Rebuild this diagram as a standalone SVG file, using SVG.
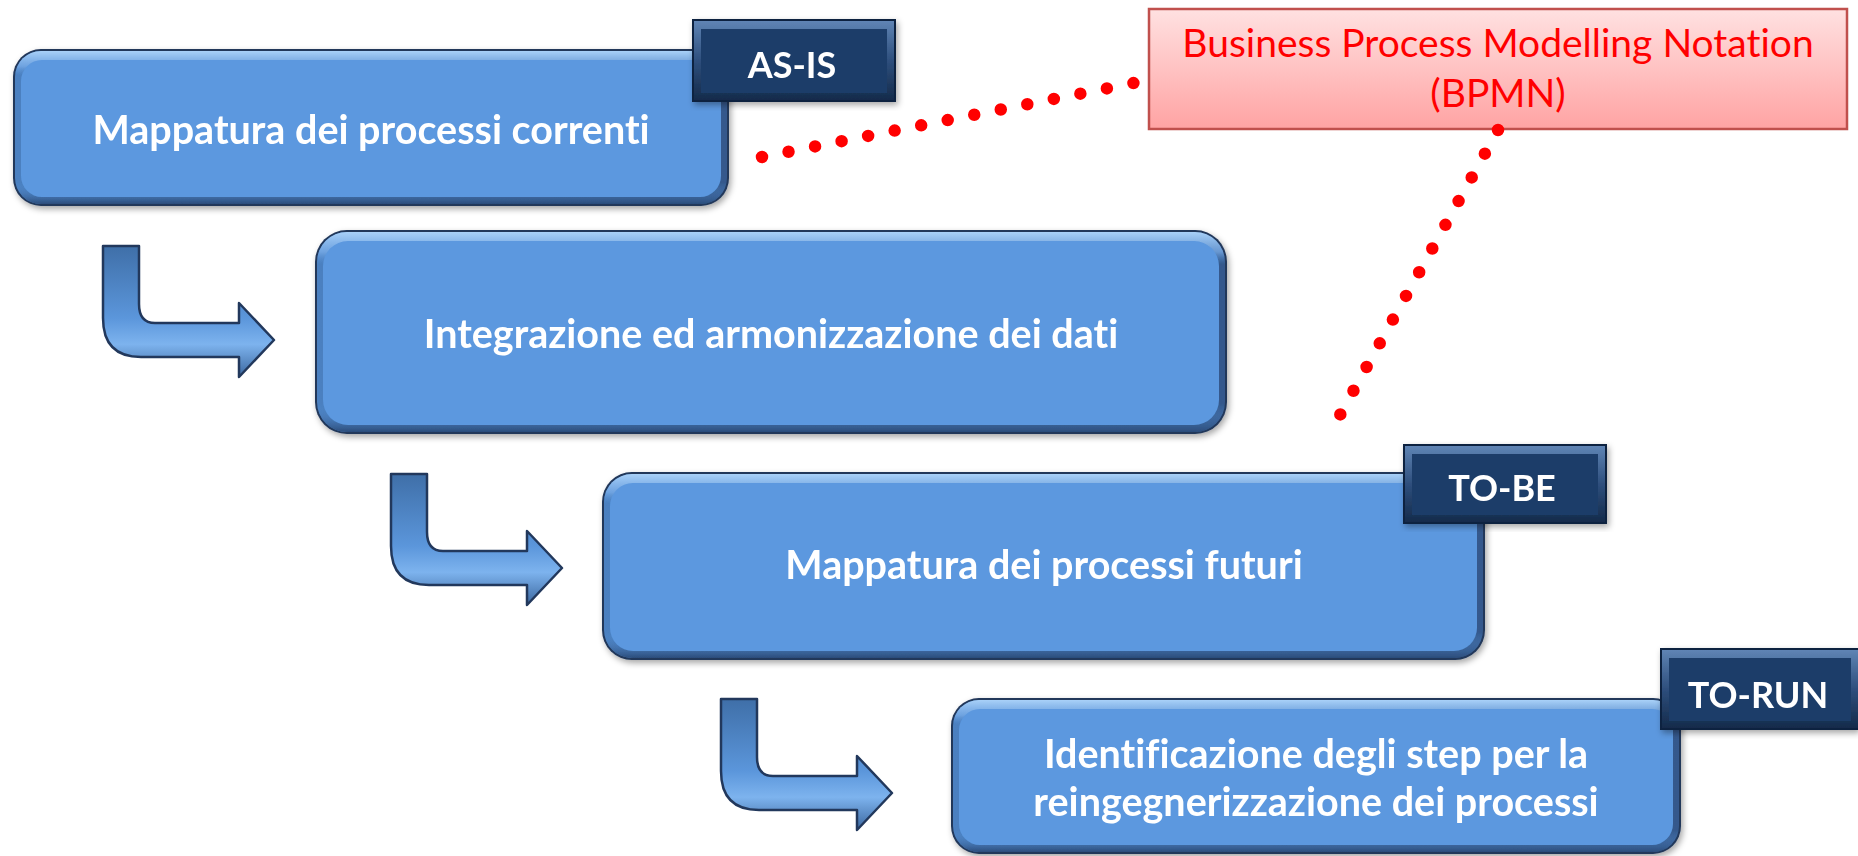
<svg xmlns="http://www.w3.org/2000/svg" width="1858" height="856" viewBox="0 0 1858 856">
<defs>
<filter id="sh" x="-5%" y="-5%" width="110%" height="115%"><feDropShadow dx="2" dy="3" stdDeviation="3" flood-color="#000" flood-opacity="0.35"/></filter>
<linearGradient id="hrim" x1="0" y1="0" x2="1" y2="0"><stop offset="0" stop-color="#4B80C0"/><stop offset="1" stop-color="#34598C"/></linearGradient>
<linearGradient id="vrim" x1="0" y1="0" x2="0" y2="1"><stop offset="0" stop-color="#A9D1F8"/><stop offset="0.1" stop-color="#7EB2EE" stop-opacity="0.7"/><stop offset="0.16" stop-color="#5B98DF" stop-opacity="0"/><stop offset="0.86" stop-color="#5B98DF" stop-opacity="0"/><stop offset="1" stop-color="#2B4C7A"/></linearGradient>
<linearGradient id="trim" x1="0" y1="0" x2="0" y2="1"><stop offset="0" stop-color="#5F84B4"/><stop offset="0.5" stop-color="#2E4F7D"/><stop offset="1" stop-color="#152B4B"/></linearGradient>
<linearGradient id="pink" x1="0" y1="0" x2="0" y2="1"><stop offset="0" stop-color="#FFE1E1"/><stop offset="1" stop-color="#FFA3A3"/></linearGradient>
<linearGradient id="arr" x1="0" y1="0" x2="0" y2="1"><stop offset="0" stop-color="#3F6FA8"/><stop offset="0.55" stop-color="#5B96DB"/><stop offset="0.75" stop-color="#7DB3EE"/><stop offset="1" stop-color="#3B679F"/></linearGradient>
<path id="bend" d="M0,0 H36 V58 Q36,77 52,77 H136 V57 L171,94 L136,131 V111 H38 Q0,111 0,72 Z"/>
</defs>
<style>
.o{fill:#20375A}
.h{fill:url(#hrim)}
.v{fill:url(#vrim)}
.i{fill:#5B98DF}
.to{fill:#102440}
.tr{fill:url(#trim)}
.ti{fill:#1F3E69}
text{font-variant-ligatures:none;font-feature-settings:"liga" 0,"dlig" 0,"clig" 0}
.bt{font-family:Lato,"Liberation Sans",sans-serif;font-weight:700;fill:#FFFFFF;text-anchor:middle;font-size:39.5px}
.tt{font-family:Lato,"Liberation Sans",sans-serif;font-weight:700;fill:#FFFFFF;text-anchor:middle;font-size:36px}
.pt{font-family:Lato,"Liberation Sans",sans-serif;fill:#FF0000;text-anchor:middle;font-size:39px}
.arrow{fill:url(#arr);stroke:#22385C;stroke-width:2.5;stroke-linejoin:round}
.dots{fill:none;stroke:#FF0000;stroke-width:12.5;stroke-linecap:round}
</style>
<rect width="1858" height="856" fill="#FFFFFF"/>

<g id="arrows">
<use href="#bend" class="arrow" transform="translate(103,246)"/>
<use href="#bend" class="arrow" transform="translate(391,474)"/>
<use href="#bend" class="arrow" transform="translate(721,699)"/>
</g>

<g id="node-mappatura-correnti" filter="url(#sh)">
<rect class="o" x="13" y="49" width="716" height="157" rx="28"/>
<rect class="h" x="15" y="51" width="712" height="153" rx="26"/>
<rect class="v" x="15" y="51" width="712" height="153" rx="26"/>
<rect class="i" x="21" y="60" width="700" height="137" rx="21"/>
<text class="bt" x="371" y="144">Mappatura dei processi correnti</text>
</g>
<g id="tag-as-is" filter="url(#sh)">
<rect class="to" x="692" y="19" width="204" height="83"/>
<rect class="tr" x="694" y="21" width="200" height="79"/>
<rect class="ti" x="701" y="29" width="186" height="64"/>
<text class="tt" x="792" y="78">AS-IS</text>
</g>

<g id="node-integrazione" filter="url(#sh)">
<rect class="o" x="315" y="230" width="912" height="204" rx="32"/>
<rect class="h" x="317" y="232" width="908" height="200" rx="30"/>
<rect class="v" x="317" y="232" width="908" height="200" rx="30"/>
<rect class="i" x="323" y="241" width="896" height="184" rx="25"/>
<text class="bt" x="771" y="348">Integrazione ed armonizzazione dei dati</text>
</g>

<g id="node-mappatura-futuri" filter="url(#sh)">
<rect class="o" x="602" y="472" width="883" height="188" rx="30"/>
<rect class="h" x="604" y="474" width="879" height="184" rx="28"/>
<rect class="v" x="604" y="474" width="879" height="184" rx="28"/>
<rect class="i" x="610" y="483" width="867" height="168" rx="23"/>
<text class="bt" x="1044" y="579">Mappatura dei processi futuri</text>
</g>
<g id="tag-to-be" filter="url(#sh)">
<rect class="to" x="1403" y="444" width="204" height="80"/>
<rect class="tr" x="1405" y="446" width="200" height="76"/>
<rect class="ti" x="1412" y="454" width="186" height="61"/>
<text class="tt" x="1502" y="501">TO-BE</text>
</g>

<g id="node-identificazione" filter="url(#sh)">
<rect class="o" x="951" y="698" width="730" height="156" rx="28"/>
<rect class="h" x="953" y="700" width="726" height="152" rx="26"/>
<rect class="v" x="953" y="700" width="726" height="152" rx="26"/>
<rect class="i" x="959" y="709" width="714" height="136" rx="21"/>
<text class="bt" x="1316" y="768">Identificazione degli step per la</text>
<text class="bt" x="1316" y="816">reingegnerizzazione dei processi</text>
</g>
<g id="tag-to-run" filter="url(#sh)">
<rect class="to" x="1660" y="648" width="198" height="82"/>
<rect class="tr" x="1662" y="650" width="196" height="78"/>
<rect class="ti" x="1669" y="658" width="182" height="63"/>
<text class="tt" x="1758" y="708">TO-RUN</text>
</g>

<g id="node-bpmn">
<rect x="1149" y="9" width="698" height="120" fill="url(#pink)" stroke="#C0504D" stroke-width="2.5"/>
<text class="pt" x="1498" y="57">Business Process Modelling Notation</text>
<text class="pt" x="1498" y="107">(BPMN)</text>
</g>

<g id="connectors">
<path class="dots" d="M762,157 L1134,83" stroke-dasharray="0 27.05"/>
<path class="dots" d="M1498,130 L1340,415" stroke-dasharray="0 27.1"/>
</g>
</svg>
